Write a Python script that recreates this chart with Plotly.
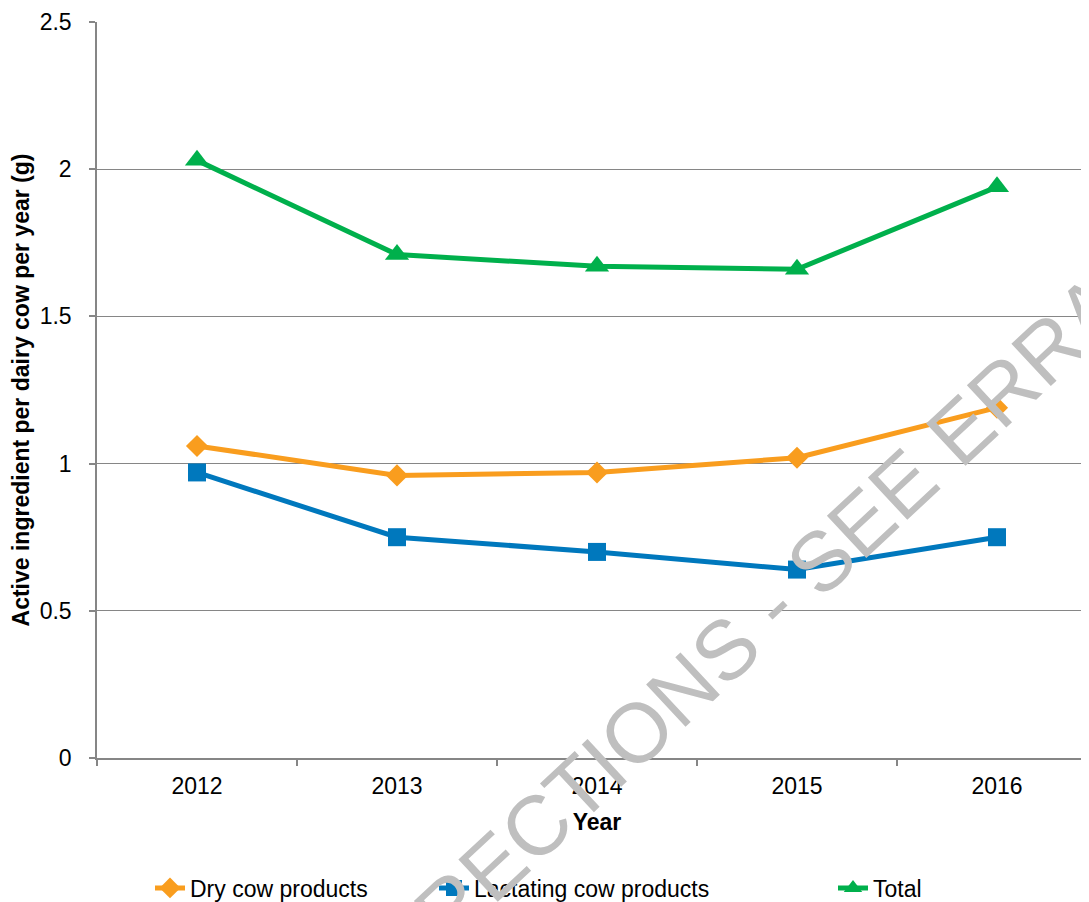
import plotly.graph_objects as go

years = ["2012", "2013", "2014", "2015", "2016"]
dry_cow = [1.06, 0.96, 0.97, 1.02, 1.19]
lactating_cow = [0.97, 0.75, 0.70, 0.64, 0.75]
total = [2.03, 1.71, 1.67, 1.66, 1.94]
y_ticks = [0, 0.5, 1, 1.5, 2, 2.5]
y_tick_text = ["0", "0.5", "1", "1.5", "2", "2.5"]

FONT = "Liberation Sans, Arial, sans-serif"
# the page body has an 8px margin, so the figure starts at (8, 8) on the page
OFF = 8
W, H = 1089, 902
PAGE_L, PAGE_T, PAGE_B = 97, 22, 758          # plot area on the page
ML = PAGE_L - OFF
MT = PAGE_T - OFF
MB = H - (PAGE_B - OFF)
MR = 0
PW = W - ML - MR
PH = H - MT - MB

def px_x(page_x):
    return (page_x - PAGE_L) / PW

def px_y(page_y):
    return (PAGE_B - page_y) / PH

fig = go.Figure()
fig.add_trace(go.Scatter(
    x=years, y=dry_cow, name="Dry cow products", mode="lines+markers",
    line=dict(color="#F99D1E", width=5),
    marker=dict(symbol="diamond", size=17, color="#F99D1E"),
    legend="legend"))
fig.add_trace(go.Scatter(
    x=years, y=lactating_cow, name="Lactating cow products", mode="lines+markers",
    line=dict(color="#0078BD", width=5),
    marker=dict(symbol="square", size=18, color="#0078BD"),
    legend="legend2"))
fig.add_trace(go.Scatter(
    x=years, y=total, name="Total", mode="lines+markers",
    line=dict(color="#00B04C", width=5),
    marker=dict(symbol="triangle-up", size=21, color="#00B04C"),
    legend="legend3"))

leg_common = dict(orientation="h", yanchor="middle", xanchor="left",
                  font=dict(family=FONT, size=23, color="#000000"),
                  bgcolor="rgba(0,0,0,0)", itemwidth=30)
fig.update_layout(
    width=W, height=H,
    margin=dict(l=ML, r=MR, t=MT, b=MB, pad=0, autoexpand=False),
    paper_bgcolor="white", plot_bgcolor="white",
    font=dict(family=FONT, size=23, color="#000000"),
    legend=dict(x=px_x(150), y=px_y(888), **leg_common),
    legend2=dict(x=px_x(434), y=px_y(888), **leg_common),
    legend3=dict(x=px_x(833), y=px_y(888), **leg_common),
    xaxis=dict(
        type="category", range=[-0.5, 4.5], tickson="boundaries",
        ticks="outside", ticklen=6, tickcolor="#868686", tickwidth=1.5,
        showline=True, linecolor="#868686", linewidth=1.5,
        showgrid=False, zeroline=False, automargin=False,
        ticklabelstandoff=7,
        tickfont=dict(family=FONT, size=23),
        title=dict(text="<b>Year</b>", font=dict(family=FONT, size=23), standoff=16),
    ),
    yaxis=dict(
        range=[0, 2.5], tickvals=y_ticks, ticktext=y_tick_text,
        ticks="outside", ticklen=6, tickcolor="#868686", tickwidth=1.5,
        showline=True, linecolor="#868686", linewidth=1.5,
        showgrid=True, gridcolor="#868686", gridwidth=1.3,
        zeroline=False, automargin=False,
        ticklabelstandoff=13,
        tickfont=dict(family=FONT, size=23),
        title=dict(text="<b>Active ingredient per dairy cow per year (g)</b>",
                   font=dict(family=FONT, size=23), standoff=4),
    ),
    showlegend=True,
)

fig.add_annotation(
    text="CORRECTIONS - SEE ERRATA", xref="paper", yref="paper",
    x=px_x(736), y=px_y(640), xanchor="center", yanchor="middle",
    showarrow=False, textangle=-43,
    font=dict(family=FONT, size=84, color="#BFBFBF"))

fig.write_html("out.html")
